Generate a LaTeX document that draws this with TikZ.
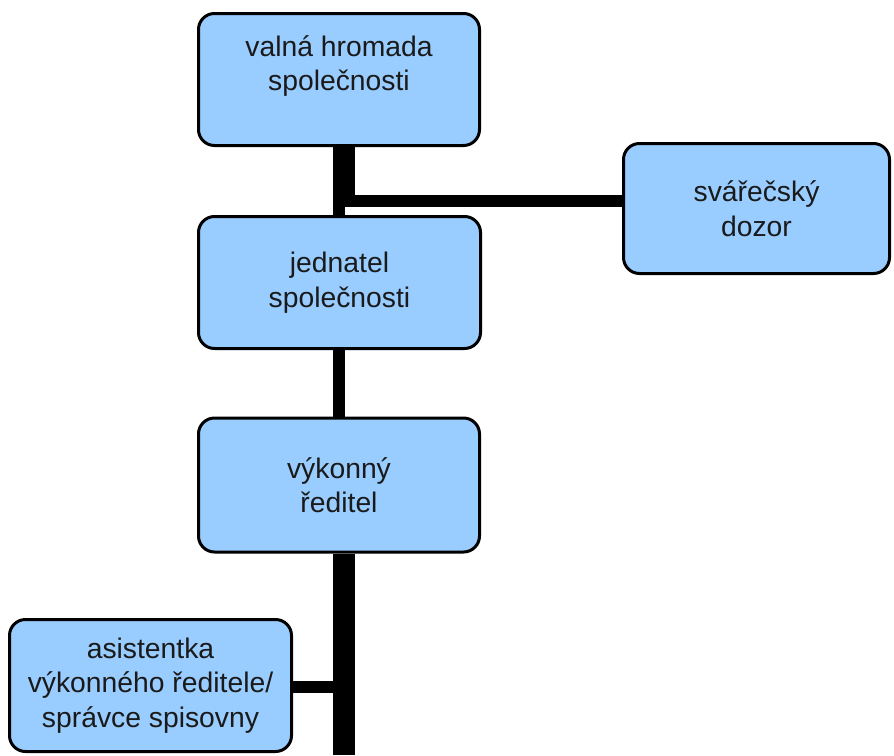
\documentclass[tikz,border=0pt]{standalone}
\usepackage{fontspec}
\setmainfont{Liberation Sans}
\definecolor{boxblue}{HTML}{99CCFF}
\definecolor{txt}{HTML}{1A1A1A}
\begin{document}
\begin{tikzpicture}[x=1pt,y=-1pt,
  box/.style={draw=black,line width=3pt,fill=boxblue,rounded corners=16pt,
    inner sep=0pt,align=center,text=txt,font=\fontsize{28.3}{34.5}\selectfont},
  lbl/.style={inner sep=0pt,align=center,text=txt,font=\fontsize{28.3}{34.5}\selectfont},
  fat/.style={line width=22pt,line cap=butt},
  slim/.style={line width=12pt,line cap=butt}]
\useasboundingbox (0,0) rectangle (894,755);
% boxes
\node[box,minimum width=281pt,minimum height=132pt] (vh) at (339,79.5) {};
\node[lbl] (vht) at (339,66) {valná hromada\\společnosti};
\node[box,minimum width=266pt,minimum height=130pt] (sd) at (756.5,208.5) {svářečský\\dozor};
\node[box,minimum width=282pt,minimum height=132pt] (jed) at (339.5,282.5) {jednatel\\společnosti};
\node[box,minimum width=281pt,minimum height=134pt] (vr) at (339,485) {výkonný\\ředitel};
\node[box,minimum width=282pt,minimum height=132pt] (as) at (150.5,685.5) {asistentka\\výkonného ředitele/\\správce spisovny};
% junction coordinates
\coordinate (jtop) at (344,195);
\coordinate (jl) at (333,201);
\coordinate (jd) at (339,207);
\coordinate (trunk) at (344,755);
\coordinate (tl) at (333,686.5);
% connectors
\draw[fat] (vh.south -| jtop) -- (jtop);
\draw[slim] (jl) -- (jl -| sd.west);
\draw[slim] (jd) -- (jed.north -| jd);
\draw[slim] (jed.south -| jd) -- (vr.north -| jd);
\draw[fat] (vr.south -| trunk) -- (trunk);
\draw[slim] (as.east |- tl) -- (tl);
\end{tikzpicture}
\end{document}
